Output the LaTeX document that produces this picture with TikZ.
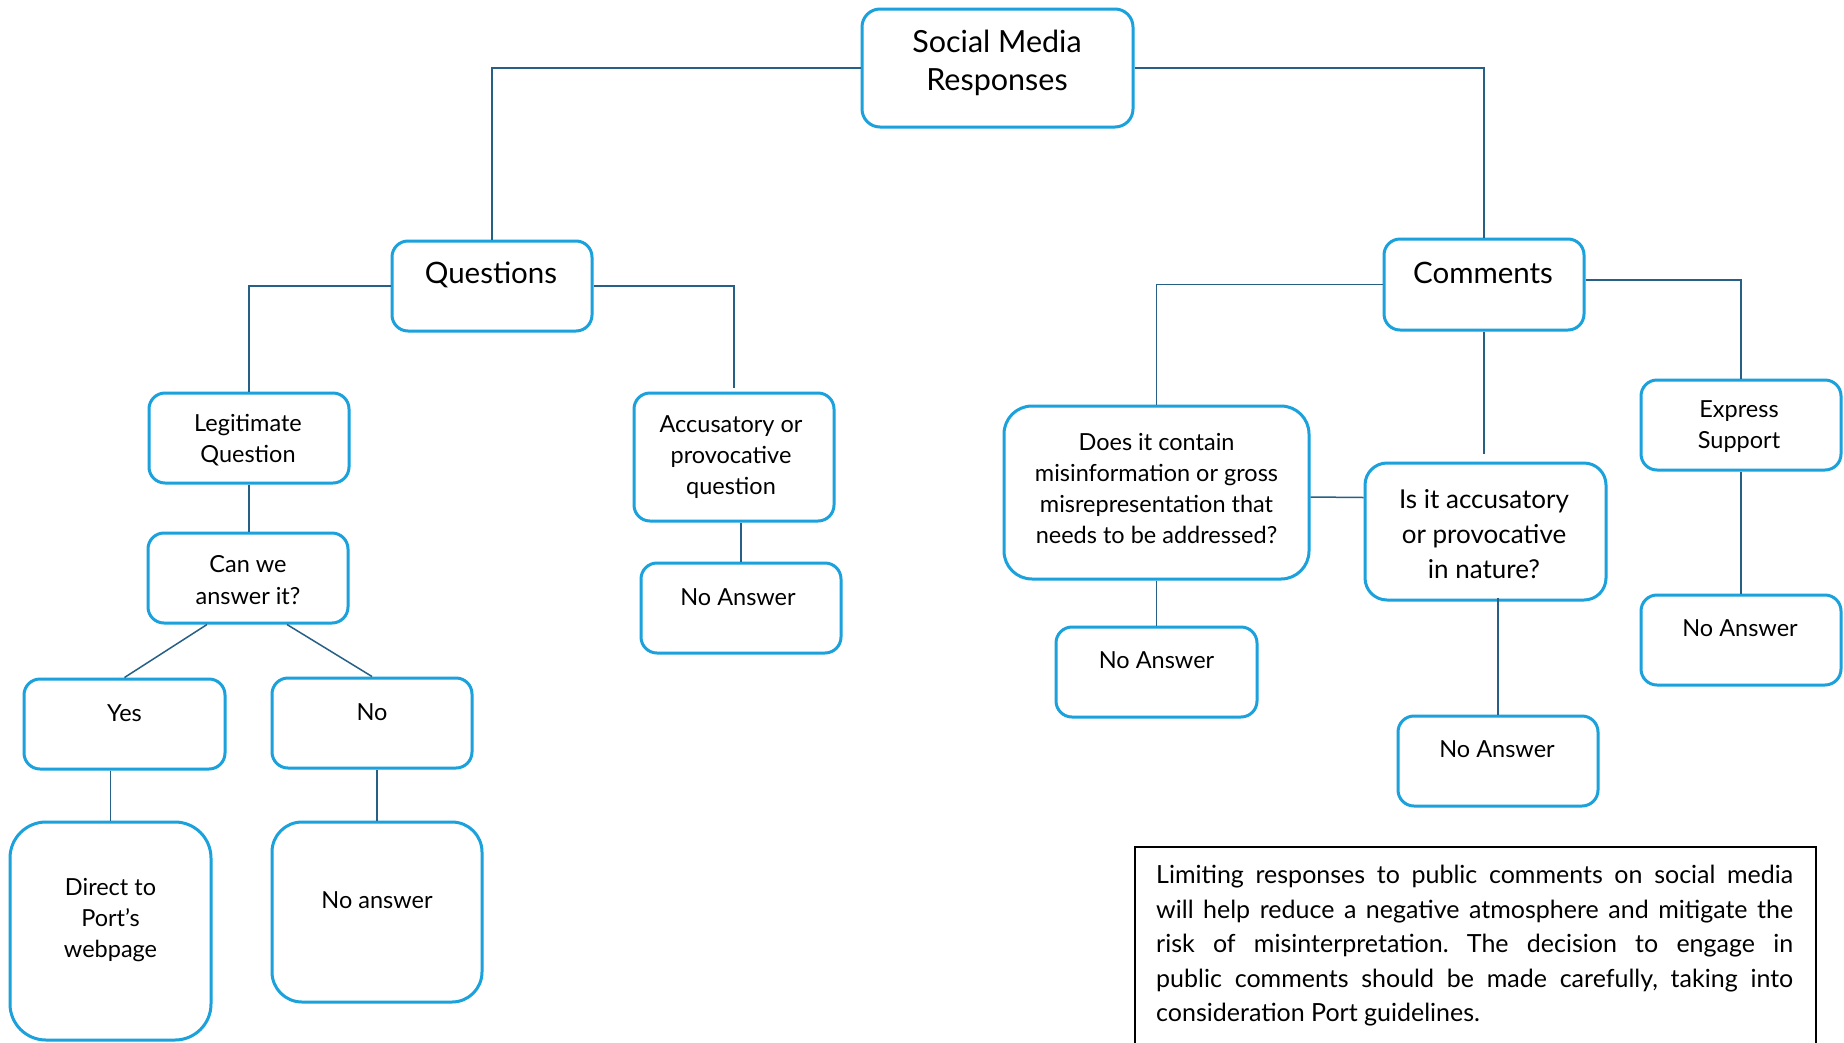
\documentclass[tikz,border=0pt]{standalone}
\usepackage{fontspec}
\setmainfont{Lato}
\usetikzlibrary{calc}
\definecolor{boxblue}{RGB}{27,161,219}
\definecolor{conblue}{RGB}{38,96,134}
\tikzset{
  box/.style={draw=boxblue, line width=3pt, rounded corners=16pt, fill=white, inner sep=0pt},
  con/.style={draw=conblue, line width=1.5pt},
  lbl/.style={align=center, text=black, inner sep=0pt, font=\fontsize{23.5}{31}\selectfont},
  big/.style={lbl, font=\fontsize{29.5}{36}\selectfont},
}
\begin{document}
\frenchspacing
\begin{tikzpicture}[x=1pt,y=-1pt]
\useasboundingbox (0,0) rectangle (1844,1042);
\clip (0,0) rectangle (1844,1042);
\fill[white] (0,0) rectangle (1844,1042);

% boxes
\node[box, rounded corners=18pt, minimum width=271pt, minimum height=118pt] (soc) at (997.5,68) {};
\node[box, minimum width=200pt, minimum height=90pt] (q) at (492,286) {};
\node[box, minimum width=200pt, minimum height=90pt] (leg) at (249,438) {};
\node[box, minimum width=200pt, minimum height=90pt] (can) at (248,578) {};
\node[box, minimum width=200pt, minimum height=128pt] (acc) at (734,457) {};
\node[box, minimum width=200pt, minimum height=90pt] (qna) at (741,608) {};
\node[box, minimum width=201pt, minimum height=90pt] (yes) at (124.5,724) {};
\node[box, minimum width=200pt, minimum height=90pt] (no) at (372,723) {};
\node[box, rounded corners=36pt, minimum width=201pt, minimum height=218pt] (direct) at (110.5,931) {};
\node[box, rounded corners=30pt, minimum width=210pt, minimum height=180pt] (noans) at (377,912) {};
\node[box, minimum width=200pt, minimum height=91pt] (com) at (1484,284.5) {};
\node[box, rounded corners=28pt, minimum width=305pt, minimum height=173pt] (does) at (1156.5,492.5) {};
\node[box, rounded corners=22pt, minimum width=241pt, minimum height=137pt] (isit) at (1485.5,531.5) {};
\node[box, minimum width=200pt, minimum height=90pt] (exp) at (1741,425) {};
\node[box, minimum width=201pt, minimum height=90pt] (dna) at (1156.5,672) {};
\node[box, minimum width=200pt, minimum height=90pt] (isna) at (1498,761) {};
\node[box, minimum width=200pt, minimum height=90pt] (ena) at (1741,640) {};

% labels
\node[lbl, font=\fontsize{30.5}{38}\selectfont] (soct) at (997,63) {Social Media\\Responses};
\node[big] (qt) at (491,275) {Questions};
\node[lbl] (legt) at (248,440) {Legitimate\\Question};
\node[lbl, font=\fontsize{23.5}{32}\selectfont] (cant) at (248,580) {Can we\\answer it?};
\node[lbl] (acct) at (731,457) {Accusatory or\\provocative\\question};
\node[lbl] (qnat) at (738,597) {No Answer};
\node[lbl] (yest) at (124.5,713) {Yes};
\node[lbl] (not) at (372,712) {No};
\node[lbl] (directt) at (110.5,920) {Direct to\\Port’s\\webpage};
\node[lbl] (noanst) at (377,900) {No answer};
\node[big] (comt) at (1483,273) {Comments};
\node[lbl] (doest) at (1156.5,489) {Does it contain\\misinformation or gross\\misrepresentation that\\needs to be addressed?};
\node[lbl, font=\fontsize{26}{35}\selectfont] (isitt) at (1484,534) {Is it accusatory\\or provocative\\in nature?};
\node[lbl, font=\fontsize{23.5}{31}\selectfont] (expt) at (1739,427) {Express\\Support};
\node[lbl] (dnat) at (1156.5,660) {No Answer};
\node[lbl] (isnat) at (1497,749) {No Answer};
\node[lbl] (enat) at (1740,628) {No Answer};

% connectors
\draw[con] (soc.west) -| (q.north);
\draw[con] (soc.east) -| (com.north);
\draw[con] (q.west) -| (leg.north);
\draw[con] (q.east) -| ($(acc.north)+(0,-4)$);
\draw[con] (leg.south) -- (leg.south |- can.north);
\draw[con] ($(can.south)+(-41,0)$) -- (yes.north);
\draw[con] ($(can.south)+(39,0)$) -- (no.north);
\draw[con] (direct.north |- yes.south) -- (direct.north);
\draw[con] (noans.north |- no.south) -- (noans.north);
\draw[con] (qna.north |- acc.south) -- (qna.north);
\draw[con] (com.west) -| (does.north);
\draw[con] ($(com.east)+(0,-4.5)$) -| (exp.north);
\coordinate (isgap) at ($(isit.north)+(0,-8)$);
\draw[con] (com.south) -- (com.south |- isgap);
\draw[con] ($(does.east)+(0,4.5)$) -- ($(isit.west)+(0,-34)$);
\draw[con] (does.south) -- (dna.north);
\draw[con] ($(isna.north |- isit.south)+(0,-4)$) -- (isna.north);
\draw[con] (exp.south) -- (ena.north);

% note
\draw[black, line width=2pt] (1135,1050) -- (1135,847) -- (1816,847) -- (1816,1050);
\node[anchor=north west, inner sep=0pt, text width=637pt, align=justify,
      font=\fontsize{25}{34.5}\selectfont] (note) at (1156,865)
  {Limiting responses to public comments on social media\linebreak
   will help reduce a negative atmosphere and mitigate the\linebreak
   risk of misinterpretation. The decision to engage in\linebreak
   public comments should be made carefully, taking into\linebreak
   consideration Port guidelines.};
\end{tikzpicture}
\end{document}
